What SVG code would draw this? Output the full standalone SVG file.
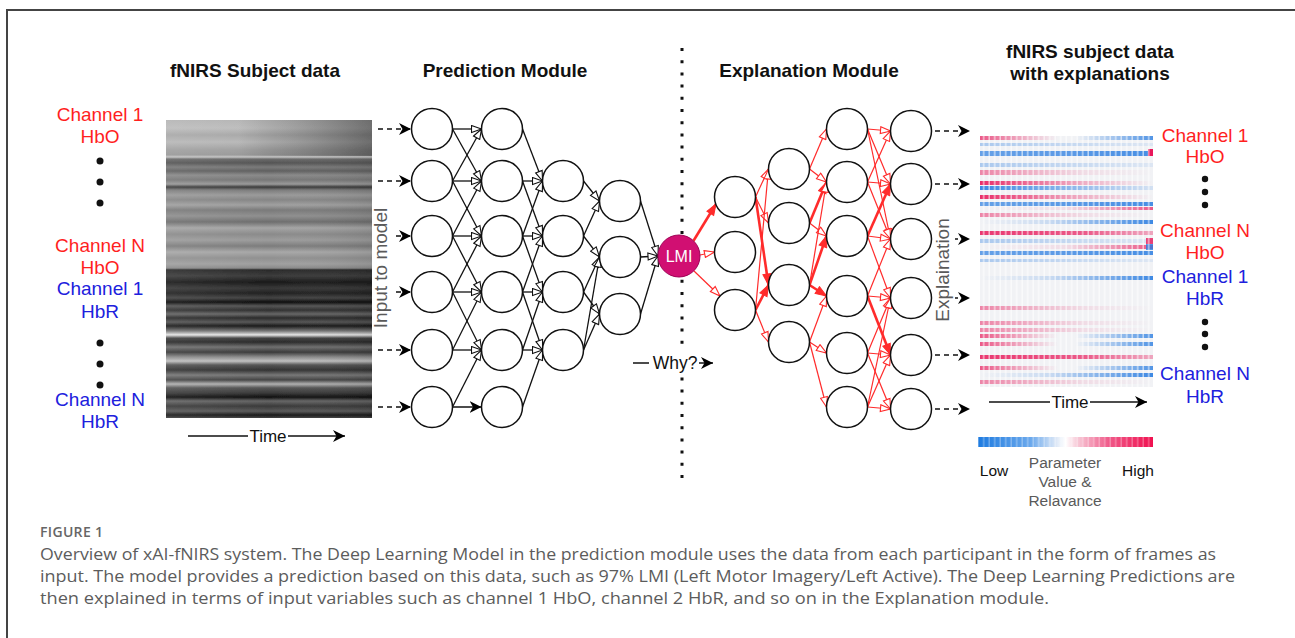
<svg xmlns="http://www.w3.org/2000/svg" width="1295" height="638" viewBox="0 0 1295 638">
  <style>
    .t { font-family: "Liberation Sans", Arial, sans-serif; text-anchor: middle; }
    .lb { font-size: 19px; }
    .ttl { font-size: 19px; font-weight: bold; fill: #111; }
    .red { fill: #ff1f1f; }
    .blue { fill: #2020dd; }
    .gray { fill: #5a5a5a; }
    .sm { font-size: 17px; fill: #111; }
    .n circle { fill: #fff; stroke: #111; stroke-width: 1.5; }
    .be { stroke: #111; stroke-width: 1.3; fill: none; marker-end: url(#ob); }
    .re { stroke: #ff2b2b; stroke-width: 1.2; fill: none; marker-end: url(#or); }
    .rt { stroke: #ff2b2b; stroke-width: 2.6; fill: none; marker-end: url(#fr); }
    .dash { stroke: #111; stroke-width: 1.5; stroke-dasharray: 5 4; fill: none; marker-end: url(#cls); }
    .solid { stroke: #111; stroke-width: 1.5; fill: none; marker-end: url(#cls); }
    .cap { font-family: "Open Sans", "Noto Sans", sans-serif; font-size: 16px; fill: #5c5c5c; }
  </style>
  <defs>
    <marker id="cls" viewBox="0 0 12 12" refX="12" refY="6" markerWidth="12" markerHeight="12" orient="auto" markerUnits="userSpaceOnUse">
      <path d="M0,0 L12,6 L0,12 L3.5,6 z" fill="#000"/>
    </marker>
    <marker id="ob" viewBox="-1 -1 12 9" refX="10" refY="3.5" markerWidth="12" markerHeight="9" orient="auto" markerUnits="userSpaceOnUse">
      <path d="M0,0 L10,3.5 L0,7 z" fill="#fff" stroke="#111" stroke-width="1.1"/>
    </marker>
    <marker id="or" viewBox="-1 -1 12 9" refX="10" refY="3.5" markerWidth="12" markerHeight="9" orient="auto" markerUnits="userSpaceOnUse">
      <path d="M0,0 L10,3.5 L0,7 z" fill="#fff" stroke="#ff2b2b" stroke-width="1.1"/>
    </marker>
    <marker id="fr" viewBox="-1 -1 13 10" refX="11" refY="4" markerWidth="13" markerHeight="10" orient="auto" markerUnits="userSpaceOnUse">
      <path d="M0,0 L11,4 L0,8 z" fill="#ff2b2b" stroke="#ff2b2b" stroke-width="1"/>
    </marker>

    <!-- greyscale signal image: horizontal bands -->
    <linearGradient id="gray" x1="0" y1="0" x2="0" y2="1">
      <stop offset="0" stop-color="#b5b5b5"/>
      <stop offset="0.027" stop-color="#bdbdbd"/>
      <stop offset="0.05" stop-color="#a8a8a8"/>
      <stop offset="0.074" stop-color="#b8b8b8"/>
      <stop offset="0.10" stop-color="#a0a0a0"/>
      <stop offset="0.117" stop-color="#999"/>
      <stop offset="0.124" stop-color="#c4c4c4"/>
      <stop offset="0.131" stop-color="#6a6a6a"/>
      <stop offset="0.144" stop-color="#555"/>
      <stop offset="0.158" stop-color="#7a7a7a"/>
      <stop offset="0.171" stop-color="#606060"/>
      <stop offset="0.185" stop-color="#8a8a8a"/>
      <stop offset="0.201" stop-color="#777"/>
      <stop offset="0.215" stop-color="#999"/>
      <stop offset="0.225" stop-color="#3a3a3a"/>
      <stop offset="0.235" stop-color="#7c7c7c"/>
      <stop offset="0.252" stop-color="#9a9a9a"/>
      <stop offset="0.268" stop-color="#858585"/>
      <stop offset="0.285" stop-color="#a0a0a0"/>
      <stop offset="0.302" stop-color="#7a7a7a"/>
      <stop offset="0.322" stop-color="#8f8f8f"/>
      <stop offset="0.342" stop-color="#6e6e6e"/>
      <stop offset="0.362" stop-color="#a5a5a5"/>
      <stop offset="0.383" stop-color="#8a8a8a"/>
      <stop offset="0.403" stop-color="#9c9c9c"/>
      <stop offset="0.423" stop-color="#7c7c7c"/>
      <stop offset="0.443" stop-color="#a8a8a8"/>
      <stop offset="0.463" stop-color="#909090"/>
      <stop offset="0.483" stop-color="#a0a0a0"/>
      <stop offset="0.497" stop-color="#8a8a8a"/>
      <stop offset="0.503" stop-color="#2a2a2a"/>
      <stop offset="0.523" stop-color="#3c3c3c"/>
      <stop offset="0.544" stop-color="#1a1a1a"/>
      <stop offset="0.564" stop-color="#383838"/>
      <stop offset="0.581" stop-color="#222"/>
      <stop offset="0.597" stop-color="#444"/>
      <stop offset="0.611" stop-color="#0e0e0e"/>
      <stop offset="0.624" stop-color="#555"/>
      <stop offset="0.638" stop-color="#303030"/>
      <stop offset="0.651" stop-color="#666"/>
      <stop offset="0.664" stop-color="#2a2a2a"/>
      <stop offset="0.678" stop-color="#555"/>
      <stop offset="0.691" stop-color="#1a1a1a"/>
      <stop offset="0.708" stop-color="#777"/>
      <stop offset="0.721" stop-color="#e6e6e6"/>
      <stop offset="0.732" stop-color="#444"/>
      <stop offset="0.745" stop-color="#2a2a2a"/>
      <stop offset="0.762" stop-color="#707070"/>
      <stop offset="0.779" stop-color="#3a3a3a"/>
      <stop offset="0.795" stop-color="#8a8a8a"/>
      <stop offset="0.809" stop-color="#c0c0c0"/>
      <stop offset="0.822" stop-color="#555"/>
      <stop offset="0.839" stop-color="#333"/>
      <stop offset="0.856" stop-color="#777"/>
      <stop offset="0.872" stop-color="#444"/>
      <stop offset="0.886" stop-color="#b0b0b0"/>
      <stop offset="0.899" stop-color="#555"/>
      <stop offset="0.916" stop-color="#3a3a3a"/>
      <stop offset="0.93" stop-color="#111"/>
      <stop offset="0.943" stop-color="#666"/>
      <stop offset="0.96" stop-color="#3a3a3a"/>
      <stop offset="0.977" stop-color="#5a5a5a"/>
      <stop offset="0.99" stop-color="#1a1a1a"/>
      <stop offset="1" stop-color="#444"/>
    </linearGradient>
    <linearGradient id="shadeR" x1="0" y1="0" x2="1" y2="0">
      <stop offset="0.35" stop-color="#000" stop-opacity="0"/>
      <stop offset="1" stop-color="#000" stop-opacity="0.35"/>
    </linearGradient>
    <linearGradient id="hazeL" x1="0" y1="0" x2="1" y2="0">
      <stop offset="0" stop-color="#fff" stop-opacity="0.08"/>
      <stop offset="0.5" stop-color="#fff" stop-opacity="0"/>
      <stop offset="1" stop-color="#000" stop-opacity="0.08"/>
    </linearGradient>

    <!-- relevance heat map row fills -->
    <linearGradient id="g-rl" x1="0" y1="0" x2="1" y2="0">
      <stop offset="0" stop-color="#e8185a" stop-opacity="0.9"/>
      <stop offset="0.55" stop-color="#e8185a" stop-opacity="0.35"/>
      <stop offset="1" stop-color="#e8185a" stop-opacity="0"/>
    </linearGradient>
    <linearGradient id="g-rls" x1="0" y1="0" x2="1" y2="0">
      <stop offset="0" stop-color="#e8185a" stop-opacity="0.5"/>
      <stop offset="0.6" stop-color="#e8185a" stop-opacity="0.1"/>
      <stop offset="1" stop-color="#e8185a" stop-opacity="0"/>
    </linearGradient>
    <linearGradient id="g-rf" x1="0" y1="0" x2="1" y2="0">
      <stop offset="0" stop-color="#e8185a" stop-opacity="0.85"/>
      <stop offset="0.6" stop-color="#e8185a" stop-opacity="0.7"/>
      <stop offset="1" stop-color="#e8185a" stop-opacity="0.35"/>
    </linearGradient>
    <linearGradient id="g-rr" x1="0" y1="0" x2="1" y2="0">
      <stop offset="0" stop-color="#e8185a" stop-opacity="0"/>
      <stop offset="0.5" stop-color="#e8185a" stop-opacity="0.1"/>
      <stop offset="1" stop-color="#e8185a" stop-opacity="0.7"/>
    </linearGradient>
    <linearGradient id="g-bl" x1="0" y1="0" x2="1" y2="0">
      <stop offset="0" stop-color="#2a7de1" stop-opacity="0.9"/>
      <stop offset="1" stop-color="#2a7de1" stop-opacity="0.15"/>
    </linearGradient>
    <linearGradient id="g-bll" x1="0" y1="0" x2="1" y2="0">
      <stop offset="0" stop-color="#2a7de1" stop-opacity="0.35"/>
      <stop offset="1" stop-color="#2a7de1" stop-opacity="0.1"/>
    </linearGradient>
    <linearGradient id="g-bf" x1="0" y1="0" x2="1" y2="0">
      <stop offset="0" stop-color="#2a7de1" stop-opacity="0.7"/>
      <stop offset="0.5" stop-color="#2a7de1" stop-opacity="0.75"/>
      <stop offset="1" stop-color="#2a7de1" stop-opacity="0.85"/>
    </linearGradient>
    <linearGradient id="g-br" x1="0" y1="0" x2="1" y2="0">
      <stop offset="0" stop-color="#2a7de1" stop-opacity="0"/>
      <stop offset="0.4" stop-color="#2a7de1" stop-opacity="0.2"/>
      <stop offset="1" stop-color="#2a7de1" stop-opacity="0.9"/>
    </linearGradient>
    <linearGradient id="g-rb" x1="0" y1="0" x2="1" y2="0">
      <stop offset="0" stop-color="#e8185a" stop-opacity="0.7"/>
      <stop offset="0.45" stop-color="#e8185a" stop-opacity="0"/>
      <stop offset="0.55" stop-color="#2a7de1" stop-opacity="0"/>
      <stop offset="1" stop-color="#2a7de1" stop-opacity="0.8"/>
    </linearGradient>
    <linearGradient id="cbar" x1="0" y1="0" x2="1" y2="0">
      <stop offset="0" stop-color="#1e7be0"/>
      <stop offset="0.3" stop-color="#6aa8ec"/>
      <stop offset="0.45" stop-color="#dfe9f7"/>
      <stop offset="0.5" stop-color="#ffffff"/>
      <stop offset="0.57" stop-color="#f7c8d6"/>
      <stop offset="0.75" stop-color="#f05888"/>
      <stop offset="1" stop-color="#f0104f"/>
    </linearGradient>
    <pattern id="tex" width="5.5" height="5.5" patternUnits="userSpaceOnUse">
      <rect x="4" y="0" width="1.5" height="5.5" fill="#fff" opacity="0.6"/>
    </pattern>
    <filter id="soft" x="-2%" y="-2%" width="104%" height="104%">
      <feGaussianBlur stdDeviation="0.7"/>
    </filter>
  </defs>

  <rect width="1295" height="638" fill="#fff"/>
  <!-- outer frame -->
  <path d="M7,638 V10 H1295" fill="none" stroke="#444" stroke-width="2"/>

  <!-- titles -->
  <text class="t ttl" x="255" y="77">fNIRS Subject data</text>
  <text class="t ttl" x="505" y="77">Prediction Module</text>
  <text class="t ttl" x="809" y="77">Explanation Module</text>
  <text class="t ttl" x="1090" y="58">fNIRS subject data</text>
  <text class="t ttl" x="1090" y="80">with explanations</text>

  <!-- channel labels, input side -->
  <g id="labels-in">
    <text class="t lb red" x="100" y="121">Channel 1</text>
    <text class="t lb red" x="100" y="143">HbO</text>
    <circle cx="100" cy="161" r="3.5" fill="#111"/>
    <circle cx="100" cy="182" r="3.5" fill="#111"/>
    <circle cx="100" cy="203" r="3.5" fill="#111"/>
    <text class="t lb red" x="100" y="252">Channel N</text>
    <text class="t lb red" x="100" y="274">HbO</text>
    <text class="t lb blue" x="100" y="295">Channel 1</text>
    <text class="t lb blue" x="100" y="318">HbR</text>
    <circle cx="100" cy="343" r="3.5" fill="#111"/>
    <circle cx="100" cy="364" r="3.5" fill="#111"/>
    <circle cx="100" cy="385" r="3.5" fill="#111"/>
    <text class="t lb blue" x="100" y="406">Channel N</text>
    <text class="t lb blue" x="100" y="428">HbR</text>
  </g>

  <!-- greyscale input data -->
  <g id="input-image">
    <g filter="url(#soft)">
      <rect x="166" y="120" width="206" height="298" fill="url(#gray)"/>
      <rect x="166" y="120" width="206" height="298" fill="url(#hazeL)"/>
      <rect x="166" y="120" width="206" height="36" fill="url(#shadeR)"/>
    </g>
    <line x1="188" y1="436" x2="345" y2="436" stroke="#111" stroke-width="1.5" marker-end="url(#cls)"/>
    <rect x="248" y="427" width="40" height="18" fill="#fff"/>
    <text class="t sm" x="268" y="442">Time</text>
  </g>

  <!-- module divider -->
  <line x1="682" y1="48" x2="682" y2="480" stroke="#111" stroke-width="3" stroke-dasharray="3 9.2"/>

  <g id="connectors">
    <!-- inputs into the network -->
    <path class="dash" d="M378,129 L411,129"/>
    <path class="dash" d="M378,181 L411,181"/>
    <path class="dash" d="M378,236 L411,236"/>
    <path class="dash" d="M378,292 L411,292"/>
    <path class="dash" d="M378,350 L411,350"/>
    <path class="dash" d="M378,407 L411,407"/>

    <!-- layer 1 to layer 2 -->
    <path class="be" d="M452.5,129L481.5,129"/>
    <path class="be" d="M452.5,129L481.5,181"/>
    <path class="be" d="M452.5,181L481.5,129"/>
    <path class="be" d="M452.5,181L481.5,181"/>
    <path class="be" d="M452.5,181L481.5,236"/>
    <path class="be" d="M452.5,236L481.5,181"/>
    <path class="be" d="M452.5,236L481.5,236"/>
    <path class="be" d="M452.5,236L481.5,292"/>
    <path class="be" d="M452.5,292L481.5,236"/>
    <path class="be" d="M452.5,292L481.5,292"/>
    <path class="be" d="M452.5,292L481.5,350"/>
    <path class="be" d="M452.5,350L481.5,292"/>
    <path class="be" d="M452.5,350L481.5,350"/>
    <path class="be" d="M452.5,407L481.5,350"/>
    <path class="solid" d="M452.5,407L481.5,407"/>

    <!-- layer 2 to layer 3 -->
    <path class="be" d="M522.5,129L542.5,181"/>
    <path class="be" d="M522.5,181L542.5,181"/>
    <path class="be" d="M522.5,181L542.5,236"/>
    <path class="be" d="M522.5,236L542.5,181"/>
    <path class="be" d="M522.5,236L542.5,236"/>
    <path class="be" d="M522.5,236L542.5,292"/>
    <path class="be" d="M522.5,292L542.5,236"/>
    <path class="be" d="M522.5,292L542.5,292"/>
    <path class="be" d="M522.5,292L542.5,350"/>
    <path class="be" d="M522.5,350L542.5,292"/>
    <path class="be" d="M522.5,350L542.5,350"/>
    <path class="be" d="M522.5,407L542.5,350"/>

    <!-- layer 3 to layer 4 -->
    <path class="be" d="M583.5,181L599.5,201"/>
    <path class="be" d="M583.5,236L599.5,201"/>
    <path class="be" d="M583.5,236L599.5,257"/>
    <path class="be" d="M583.5,292L599.5,257"/>
    <path class="be" d="M583.5,292L599.5,314"/>
    <path class="be" d="M583.5,350L599.5,257"/>
    <path class="be" d="M583.5,350L599.5,314"/>

    <!-- layer 4 to prediction -->
    <path class="be" d="M640.5,201L658,256"/>
    <path class="be" d="M640.5,257L658,256"/>
    <path class="be" d="M640.5,314L658,256"/>

    <!-- why? -->
    <line x1="633" y1="363" x2="713" y2="363" stroke="#111" stroke-width="1.5" marker-end="url(#cls)"/>

    <!-- relevance propagation -->
    <path class="rt" d="M693.5,240.8L716,204"/>
    <path class="re" d="M700,255L714.5,252"/>
    <path class="re" d="M694,271L720,296"/>

    <path class="re" d="M755.5,197L768.5,169"/>
    <path class="re" d="M755.5,197L768.5,223"/>
    <path class="rt" d="M755.5,197L768.5,285"/>
    <path class="re" d="M755.5,310L768.5,169"/>
    <path class="rt" d="M755.5,310L768.5,285"/>
    <path class="re" d="M755.5,310L768.5,342"/>

    <path class="re" d="M809.5,169L826.5,129"/>
    <path class="re" d="M809.5,169L826.5,182"/>
    <path class="rt" d="M809.5,223L826.5,182"/>
    <path class="re" d="M809.5,223L826.5,236"/>
    <path class="re" d="M809.5,285L826.5,182"/>
    <path class="rt" d="M809.5,285L826.5,236"/>
    <path class="rt" d="M809.5,285L826.5,296"/>
    <path class="re" d="M809.5,342L826.5,296"/>
    <path class="re" d="M809.5,342L826.5,353"/>
    <path class="re" d="M809.5,342L826.5,407"/>

    <path class="re" d="M867.5,129L890.5,131"/>
    <path class="re" d="M867.5,129L890.5,184"/>
    <path class="re" d="M867.5,129L890.5,239"/>
    <path class="re" d="M867.5,182L890.5,131"/>
    <path class="re" d="M867.5,182L890.5,184"/>
    <path class="re" d="M867.5,182L890.5,239"/>
    <path class="rt" d="M867.5,236L890.5,184"/>
    <path class="re" d="M867.5,236L890.5,239"/>
    <path class="re" d="M867.5,236L890.5,298"/>
    <path class="re" d="M867.5,296L890.5,239"/>
    <path class="re" d="M867.5,296L890.5,298"/>
    <path class="rt" d="M867.5,296L890.5,355"/>
    <path class="re" d="M867.5,353L890.5,298"/>
    <path class="re" d="M867.5,353L890.5,355"/>
    <path class="re" d="M867.5,353L890.5,409"/>
    <path class="re" d="M867.5,407L890.5,298"/>
    <path class="re" d="M867.5,407L890.5,355"/>
    <path class="re" d="M867.5,407L890.5,409"/>

    <!-- explanation outputs -->
    <path class="dash" d="M935,131 L970,131"/>
    <path class="dash" d="M935,184 L970,184"/>
    <path class="dash" d="M935,239 L970,239"/>
    <path class="dash" d="M935,298 L970,298"/>
    <path class="dash" d="M935,355 L970,355"/>
    <path class="dash" d="M935,409 L970,409"/>
  </g>

  <!-- rotated side labels with white backing -->
  <rect x="372" y="207" width="21" height="123" fill="#fff"/>
  <text class="t lb gray" transform="translate(387,268) rotate(-90)">Input to model</text>
  <rect x="934" y="216" width="21" height="108" fill="#fff"/>
  <text class="t lb gray" transform="translate(949,270) rotate(-90)">Explaination</text>
  <rect x="649" y="353" width="50" height="19" fill="#fff"/>
  <text class="t" x="675" y="369" font-size="17.5" fill="#111">Why?</text>

  <!-- prediction network nodes -->
  <g class="n">
    <g id="p1-1"><circle cx="432" cy="129" r="20.5"/></g>
    <g id="p1-2"><circle cx="432" cy="181" r="20.5"/></g>
    <g id="p1-3"><circle cx="432" cy="236" r="20.5"/></g>
    <g id="p1-4"><circle cx="432" cy="292" r="20.5"/></g>
    <g id="p1-5"><circle cx="432" cy="350" r="20.5"/></g>
    <g id="p1-6"><circle cx="432" cy="407" r="20.5"/></g>
    <g id="p2-1"><circle cx="502" cy="129" r="20.5"/></g>
    <g id="p2-2"><circle cx="502" cy="181" r="20.5"/></g>
    <g id="p2-3"><circle cx="502" cy="236" r="20.5"/></g>
    <g id="p2-4"><circle cx="502" cy="292" r="20.5"/></g>
    <g id="p2-5"><circle cx="502" cy="350" r="20.5"/></g>
    <g id="p2-6"><circle cx="502" cy="407" r="20.5"/></g>
    <g id="p3-1"><circle cx="563" cy="181" r="20.5"/></g>
    <g id="p3-2"><circle cx="563" cy="236" r="20.5"/></g>
    <g id="p3-3"><circle cx="563" cy="292" r="20.5"/></g>
    <g id="p3-4"><circle cx="563" cy="350" r="20.5"/></g>
    <g id="p4-1"><circle cx="620" cy="201" r="20.5"/></g>
    <g id="p4-2"><circle cx="620" cy="257" r="20.5"/></g>
    <g id="p4-3"><circle cx="620" cy="314" r="20.5"/></g>
  </g>

  <!-- prediction output -->
  <g id="lmi">
    <circle cx="679" cy="256" r="21" fill="#d10f72" stroke="#a00055" stroke-width="1"/>
    <text class="t" x="679" y="262" font-size="16" fill="#fff">LMI</text>
  </g>

  <!-- explanation network nodes -->
  <g class="n">
    <g id="e1-1"><circle cx="735" cy="197" r="20.5"/></g>
    <g id="e1-2"><circle cx="735" cy="252" r="20.5"/></g>
    <g id="e1-3"><circle cx="735" cy="310" r="20.5"/></g>
    <g id="e2-1"><circle cx="789" cy="169" r="20.5"/></g>
    <g id="e2-2"><circle cx="789" cy="223" r="20.5"/></g>
    <g id="e2-3"><circle cx="789" cy="285" r="20.5"/></g>
    <g id="e2-4"><circle cx="789" cy="342" r="20.5"/></g>
    <g id="e3-1"><circle cx="847" cy="129" r="20.5"/></g>
    <g id="e3-2"><circle cx="847" cy="182" r="20.5"/></g>
    <g id="e3-3"><circle cx="847" cy="236" r="20.5"/></g>
    <g id="e3-4"><circle cx="847" cy="296" r="20.5"/></g>
    <g id="e3-5"><circle cx="847" cy="353" r="20.5"/></g>
    <g id="e3-6"><circle cx="847" cy="407" r="20.5"/></g>
    <g id="e4-1"><circle cx="911" cy="131" r="20.5"/></g>
    <g id="e4-2"><circle cx="911" cy="184" r="20.5"/></g>
    <g id="e4-3"><circle cx="911" cy="239" r="20.5"/></g>
    <g id="e4-4"><circle cx="911" cy="298" r="20.5"/></g>
    <g id="e4-5"><circle cx="911" cy="355" r="20.5"/></g>
    <g id="e4-6"><circle cx="911" cy="409" r="20.5"/></g>
  </g>

  <!-- relevance heat map -->
  <g id="heatmap">
    <g filter="url(#soft)">
      <rect x="980" y="136" width="173" height="251" fill="#f1f2f5"/>
      <rect x="980" y="136" width="173" height="4" fill="url(#g-rb)"/>
      <rect x="980" y="143" width="173" height="3" fill="url(#g-bll)"/>
      <rect x="980" y="151" width="173" height="5" fill="url(#g-bf)"/>
      <rect x="980" y="163" width="173" height="4" fill="url(#g-bll)"/>
      <rect x="980" y="170" width="173" height="5" fill="url(#g-rls)"/>
      <rect x="980" y="181" width="173" height="4" fill="url(#g-rl)"/>
      <rect x="980" y="186" width="173" height="4" fill="url(#g-bl)"/>
      <rect x="980" y="195" width="173" height="4" fill="url(#g-rl)"/>
      <rect x="980" y="202" width="173" height="4" fill="url(#g-bf)"/>
      <rect x="980" y="207" width="173" height="3" fill="url(#g-rr)"/>
      <rect x="980" y="213" width="173" height="4" fill="url(#g-rls)"/>
      <rect x="980" y="220" width="173" height="4" fill="url(#g-br)"/>
      <rect x="980" y="231" width="173" height="4" fill="url(#g-rf)"/>
      <rect x="980" y="239" width="173" height="4" fill="url(#g-bll)"/>
      <rect x="980" y="245" width="173" height="4" fill="url(#g-rr)"/>
      <rect x="980" y="251" width="173" height="4" fill="url(#g-bf)"/>
      <rect x="980" y="259" width="173" height="3" fill="url(#g-bll)"/>
      <rect x="980" y="276" width="173" height="4" fill="url(#g-br)"/>
      <rect x="980" y="306" width="173" height="4" fill="url(#g-rls)"/>
      <rect x="980" y="321" width="173" height="4" fill="url(#g-rls)"/>
      <rect x="980" y="328" width="173" height="4" fill="url(#g-rls)"/>
      <rect x="980" y="334" width="173" height="4" fill="url(#g-rb)"/>
      <rect x="980" y="342" width="173" height="4" fill="url(#g-rb)"/>
      <rect x="980" y="355" width="173" height="4" fill="url(#g-rf)"/>
      <rect x="980" y="366" width="173" height="4" fill="url(#g-rb)"/>
      <rect x="980" y="373" width="173" height="4" fill="url(#g-br)"/>
      <rect x="980" y="380" width="173" height="4" fill="url(#g-rls)"/>
      <rect x="1148" y="149" width="5" height="7" fill="#e8185a"/>
      <rect x="1146" y="238" width="7" height="6" fill="#e8185a" opacity="0.8"/>
      <rect x="1146" y="244" width="7" height="6" fill="#2a7de1" opacity="0.8"/>
      <rect x="980" y="136" width="173" height="251" fill="url(#tex)"/>
    </g>
    <line x1="989" y1="402" x2="1147" y2="402" stroke="#111" stroke-width="1.5" marker-end="url(#cls)"/>
    <rect x="1050" y="393" width="40" height="18" fill="#fff"/>
    <text class="t sm" x="1070" y="408">Time</text>
  </g>

  <!-- channel labels, output side -->
  <g id="labels-out">
    <text class="t lb red" x="1205" y="142">Channel 1</text>
    <text class="t lb red" x="1205" y="163">HbO</text>
    <circle cx="1205" cy="179" r="3.2" fill="#111"/>
    <circle cx="1205" cy="192" r="3.2" fill="#111"/>
    <circle cx="1205" cy="205" r="3.2" fill="#111"/>
    <text class="t lb red" x="1205" y="237">Channel N</text>
    <text class="t lb red" x="1205" y="259">HbO</text>
    <text class="t lb blue" x="1205" y="283">Channel 1</text>
    <text class="t lb blue" x="1205" y="305">HbR</text>
    <circle cx="1205" cy="322" r="3.2" fill="#111"/>
    <circle cx="1205" cy="334" r="3.2" fill="#111"/>
    <circle cx="1205" cy="347" r="3.2" fill="#111"/>
    <text class="t lb blue" x="1205" y="380">Channel N</text>
    <text class="t lb blue" x="1205" y="403">HbR</text>
  </g>

  <!-- colour scale -->
  <g id="legend">
    <rect x="978" y="437" width="175" height="10" fill="url(#cbar)"/>
    <rect x="978" y="437" width="175" height="10" fill="url(#tex)" opacity="0.5"/>
    <text class="t" x="994" y="476" font-size="15.5" fill="#111">Low</text>
    <text class="t" x="1138" y="476" font-size="15.5" fill="#111">High</text>
    <text class="t gray" x="1065" y="468" font-size="15.5">Parameter</text>
    <text class="t gray" x="1065" y="487" font-size="15.5">Value &amp;</text>
    <text class="t gray" x="1065" y="506" font-size="15.5">Relavance</text>
  </g>

  <!-- caption -->
  <g id="caption">
    <text x="40" y="537" font-family="'Open Sans', 'Noto Sans', sans-serif" font-size="14" font-weight="600" fill="#666" textLength="63">FIGURE 1</text>
    <text class="cap" x="40" y="560" textLength="1176" lengthAdjust="spacingAndGlyphs">Overview of xAI-fNIRS system. The Deep Learning Model in the prediction module uses the data from each participant in the form of frames as</text>
    <text class="cap" x="40" y="582" textLength="1195" lengthAdjust="spacingAndGlyphs">input. The model provides a prediction based on this data, such as 97% LMI (Left Motor Imagery/Left Active). The Deep Learning Predictions are</text>
    <text class="cap" x="40" y="604" textLength="1009" lengthAdjust="spacingAndGlyphs">then explained in terms of input variables such as channel 1 HbO, channel 2 HbR, and so on in the Explanation module.</text>
  </g>
</svg>
